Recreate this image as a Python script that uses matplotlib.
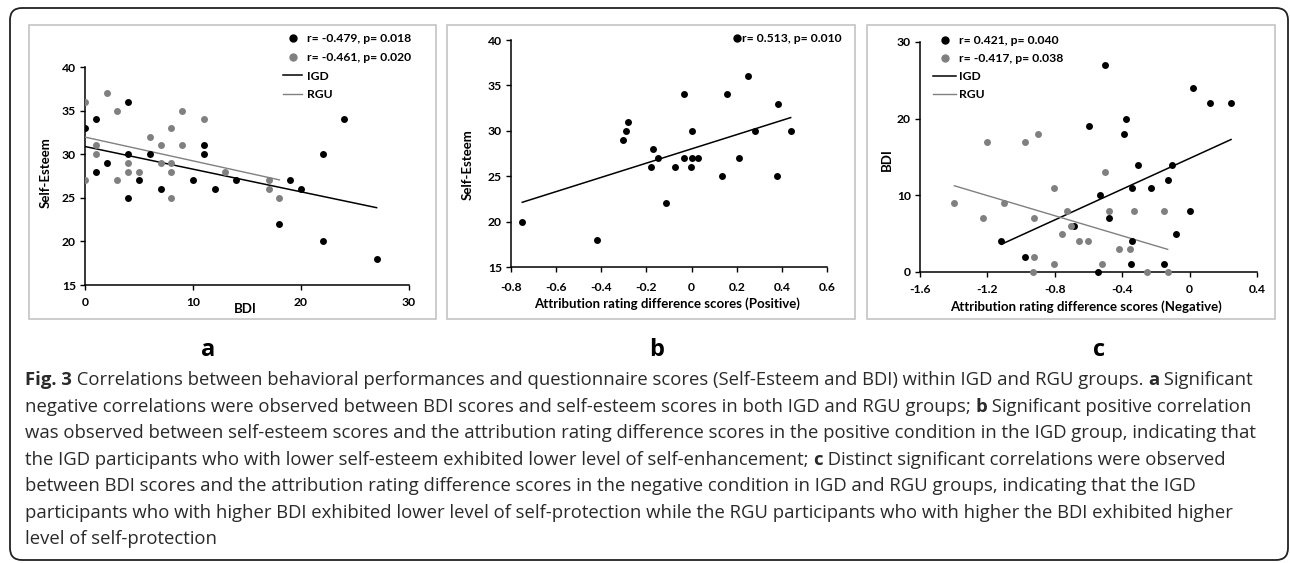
import numpy as np
import matplotlib
matplotlib.use("Agg")
import matplotlib.pyplot as plt
from matplotlib.lines import Line2D
from matplotlib.patches import FancyBboxPatch, Rectangle

plt.rcParams['font.family'] = ['Lato', 'DejaVu Sans']

# ---- panel a : BDI vs Self-Esteem ----
a_igd_x = [0, 1, 1, 2, 4, 4, 4, 5, 6, 7, 10, 11, 11, 12, 14, 18, 19, 20, 22, 22, 24, 27]
a_igd_y = [33, 34, 28, 29, 36, 30, 25, 27, 30, 26, 27, 31, 30, 26, 27, 22, 27, 26, 30, 20, 34, 18]
a_rgu_x = [0, 0, 1, 1, 2, 3, 3, 4, 4, 5, 6, 7, 7, 8, 8, 8, 8, 9, 9, 11, 13, 17, 17, 18]
a_rgu_y = [36, 27, 31, 30, 37, 35, 27, 29, 28, 28, 32, 31, 29, 33, 29, 28, 25, 35, 31, 34, 28, 27, 26, 25]
a_legend = ["r= -0.479, p= 0.018", "r= -0.461, p= 0.020", "IGD", "RGU"]

# ---- panel b : positive attribution vs Self-Esteem (IGD) ----
b_x = [-0.75, -0.42, -0.305, -0.29, -0.283, -0.18, -0.17, -0.15, -0.113, -0.073, -0.032, -0.032,
       -0.004, 0.003, 0.0, 0.027, 0.133, 0.157, 0.21, 0.252, 0.281, 0.377, 0.381, 0.439]
b_y = [20, 18, 29, 30, 31, 26, 28, 27, 22, 26, 34, 27, 26, 30, 27, 27, 25, 34, 27, 36, 30, 25, 33, 30]
b_legend = "r= 0.513, p= 0.010"

# ---- panel c : negative attribution vs BDI ----
c_igd_x = [-0.5, -0.6, -0.378, -0.391, 0.02, 0.121, 0.246, -0.304, -0.104, -0.344, -0.229, -0.13,
           -0.53, -0.48, -0.684, 0.0, -0.08, -1.117, -0.344, -0.979, -0.545, -0.348, -0.154]
c_igd_y = [27, 19, 20, 18, 24, 22, 22, 14, 14, 11, 11, 12, 10, 7, 6, 8, 5, 4, 4, 2, 0, 1, 1]
c_rgu_x = [-1.396, -1.202, -0.979, -0.902, -0.502, -0.805, -1.228, -1.103, -0.923, -0.728, -0.478,
           -0.328, -0.152, -0.755, -0.704, -0.658, -0.605, -0.923, -0.927, -0.803, -0.518, -0.419,
           -0.355, -0.253, -0.13]
c_rgu_y = [9, 17, 17, 18, 13, 11, 7, 9, 7, 8, 8, 8, 8, 5, 6, 4, 4, 2, 0, 1, 1, 3, 3, 0, 0]
c_legend = ["r= 0.421, p= 0.040", "r= -0.417, p= 0.038", "IGD", "RGU"]

caption = [
    [("Fig. 3", True), (" Correlations between behavioral performances and questionnaire scores (Self-Esteem and BDI) within IGD and RGU groups. ", False), ("a", True), (" Significant", False)],
    [("negative correlations were observed between BDI scores and self-esteem scores in both IGD and RGU groups; ", False), ("b", True), (" Significant positive correlation", False)],
    [("was observed between self-esteem scores and the attribution rating difference scores in the positive condition in the IGD group, indicating that", False)],
    [("the IGD participants who with lower self-esteem exhibited lower level of self-enhancement; ", False), ("c", True), (" Distinct significant correlations were observed", False)],
    [("between BDI scores and the attribution rating difference scores in the negative condition in IGD and RGU groups, indicating that the IGD", False)],
    [("participants who with higher BDI exhibited lower level of self-protection while the RGU participants who with higher the BDI exhibited higher", False)],
    [("level of self-protection", False)],
]

W, H = 1290, 563
GRAY = '#808080'
TICK_FS = 8.75
LAB_FS = 9.5
fig = plt.figure(figsize=(W / 100, H / 100), dpi=100)

# background axes in pixel units (for frame, panel boxes, caption)
bg = fig.add_axes([0, 0, 1, 1], zorder=0)
bg.set_xlim(0, W)
bg.set_ylim(H, 0)
bg.axis('off')
bg.add_patch(FancyBboxPatch((10, 8), 1278, 552, boxstyle="round,pad=0,rounding_size=12",
                            fill=False, ec='#222222', lw=1.3))
for x0, x1 in [(29, 436), (447, 855), (867, 1275)]:
    bg.add_patch(Rectangle((x0, 25), x1 - x0, 294, fill=False, ec='#c4c4c4', lw=1.2))
for lab, x in [("a", 208), ("b", 657), ("c", 1099)]:
    bg.text(x, 350, lab, ha='center', va='center', fontsize=17, fontweight='bold',
            family='Open Sans')

line_y = [380, 407, 433, 460, 486, 513, 539]
for parts, y in zip(caption, line_y):
    prev = None
    for txt, bold in parts:
        kw = dict(fontsize=13.3, family='Open Sans', color='#2a2a2a',
                  fontweight='bold' if bold else 'normal')
        if prev is None:
            prev = bg.text(25, y, txt, va='center', ha='left', **kw)
        else:
            prev = bg.annotate(txt, xy=(1, 0), xycoords=prev, va='bottom', ha='left', **kw)


def make_ax(l, r, t, b):
    ax = fig.add_axes([l / W, 1 - b / H, (r - l) / W, (b - t) / H], zorder=2)
    ax.set_facecolor('none')
    for s in ['top', 'right']:
        ax.spines[s].set_visible(False)
    for s in ['left', 'bottom']:
        ax.spines[s].set_linewidth(1.1)
    ax.tick_params(direction='out', length=3.5, width=1.0, labelsize=TICK_FS, pad=3)
    return ax


def bold_ticks(ax):
    for lbl in ax.get_xticklabels() + ax.get_yticklabels():
        lbl.set_fontweight('bold')


def fit_line(ax, x, y, color, lw):
    k, c = np.polyfit(x, y, 1)
    xs = np.array([min(x), max(x)])
    ax.plot(xs, k * xs + c, color=color, lw=lw, zorder=3)


def px2fig(x, y):
    return (x / W, 1 - y / H)


def place_xlabel(ax, l, r, b, t, x_px, y_px):
    ax.xaxis.set_label_coords((x_px - l) / (r - l), (b - y_px) / (b - t))


def place_ylabel(ax, l, r, b, t, x_px, y_px):
    ax.yaxis.set_label_coords((x_px - l) / (r - l), (b - y_px) / (b - t))


legend_kw = dict(loc='upper left', frameon=False, borderpad=0, borderaxespad=0,
                 prop={'weight': 'bold', 'size': TICK_FS})

# panel a
L, R, T, B = 85, 409, 67, 285
ax = make_ax(L, R, T, B)
ax.scatter(a_igd_x, a_igd_y, s=25, color='black', zorder=4, lw=0)
ax.scatter(a_rgu_x, a_rgu_y, s=25, color=GRAY, zorder=4, lw=0)
fit_line(ax, a_igd_x, a_igd_y, 'black', 1.1)
fit_line(ax, a_rgu_x, a_rgu_y, GRAY, 1.0)
ax.set_xlim(0, 30)
ax.set_ylim(15, 40)
ax.set_xticks([0, 10, 20, 30])
ax.set_yticks([15, 20, 25, 30, 35, 40])
ax.tick_params(axis='x', pad=5)
bold_ticks(ax)
ax.set_xlabel("BDI", fontsize=LAB_FS, fontweight='bold')
ax.set_ylabel("Self-Esteem", fontsize=LAB_FS, fontweight='bold')
place_xlabel(ax, L, R, B, T, 245, 303)
place_ylabel(ax, L, R, B, T, 52, 173)
handles = [Line2D([], [], marker='o', ls='', color='black', markersize=5),
           Line2D([], [], marker='o', ls='', color=GRAY, markersize=5),
           Line2D([], [], color='black', lw=1.1),
           Line2D([], [], color=GRAY, lw=1.0)]
fig.legend(handles, a_legend, bbox_to_anchor=px2fig(283, 33.5), handlelength=1.6,
           handletextpad=0.35, labelspacing=0.62, **legend_kw)

# panel b
L, R, T, B = 511, 827, 40, 267
ax = make_ax(L, R, T, B)
ax.scatter(b_x, b_y, s=25, color='black', zorder=4, lw=0)
fit_line(ax, b_x, b_y, 'black', 1.1)
ax.set_xlim(-0.8, 0.6)
ax.set_ylim(15, 40)
ax.set_xticks(np.round(np.arange(-0.8, 0.61, 0.2), 1))
ax.set_xticklabels(['-0.8', '-0.6', '-0.4', '-0.2', '0', '0.2', '0.4', '0.6'])
ax.set_yticks([15, 20, 25, 30, 35, 40])
ax.tick_params(axis='x', pad=7)
bold_ticks(ax)
ax.set_xlabel("Attribution rating difference scores (Positive)", fontsize=LAB_FS, fontweight='bold')
ax.set_ylabel("Self-Esteem", fontsize=LAB_FS, fontweight='bold')
place_xlabel(ax, L, R, B, T, 667, 297)
place_ylabel(ax, L, R, B, T, 474, 165)
fig.legend([Line2D([], [], marker='o', ls='', color='black', markersize=5)], [b_legend],
           bbox_to_anchor=px2fig(733, 33), handlelength=0.6, handletextpad=0.15, **legend_kw)

# panel c
L, R, T, B = 920, 1257, 42, 272
ax = make_ax(L, R, T, B)
ax.scatter(c_igd_x, c_igd_y, s=25, color='black', zorder=4, lw=0, clip_on=False)
ax.scatter(c_rgu_x, c_rgu_y, s=25, color=GRAY, zorder=4, lw=0, clip_on=False)
fit_line(ax, c_igd_x, c_igd_y, 'black', 1.1)
fit_line(ax, c_rgu_x, c_rgu_y, GRAY, 1.0)
ax.set_xlim(-1.6, 0.4)
ax.set_ylim(0, 30)
ax.set_xticks([-1.6, -1.2, -0.8, -0.4, 0, 0.4])
ax.set_xticklabels(['-1.6', '-1.2', '-0.8', '-0.4', '0', '0.4'])
ax.set_yticks([0, 10, 20, 30])
ax.tick_params(axis='x', pad=5)
bold_ticks(ax)
ax.set_xlabel("Attribution rating difference scores (Negative)", fontsize=LAB_FS, fontweight='bold')
ax.set_ylabel("BDI", fontsize=LAB_FS, fontweight='bold')
place_xlabel(ax, L, R, B, T, 1086, 300)
place_ylabel(ax, L, R, B, T, 893, 160)
fig.legend(handles, c_legend, bbox_to_anchor=px2fig(933, 35.5), handlelength=1.9,
           handletextpad=0.25, labelspacing=0.57, **legend_kw)

fig.savefig("out.png", dpi=100)
